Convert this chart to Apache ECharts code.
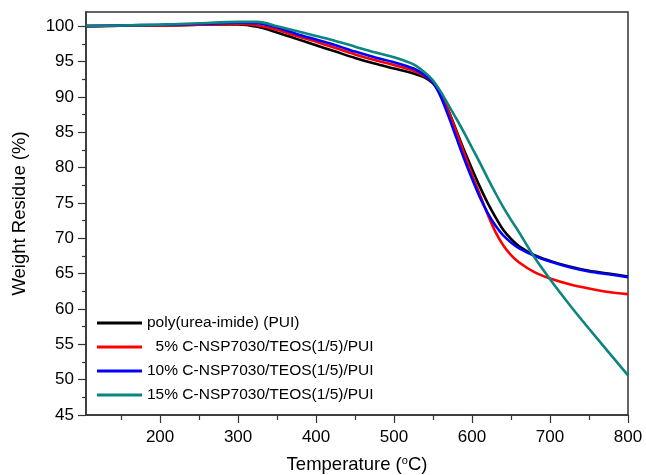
<!DOCTYPE html>
<html>
<head>
<meta charset="utf-8">
<script src="https://cdn.jsdelivr.net/npm/echarts@6/dist/echarts.min.js"></script>
<style>
html, body { margin: 0; padding: 0; background: #fff; }
#main { width: 646px; height: 475px; }
</style>
</head>
<body>
<div id="main"></div>
<script>
// temperatures (°C) and weight residue (%)
var temps = [105, 150, 200, 250, 300, 325, 350, 375, 400, 425, 450, 475, 500, 525, 540, 550, 560, 570, 580, 590, 600, 610, 620, 630, 640, 650, 660, 680, 700, 725, 750, 775, 800];
var pui   = [100, 100.05, 100.1, 100.2, 100.25, 99.9, 99.1, 98.2, 97.3, 96.4, 95.5, 94.7, 94.0, 93.3, 92.7, 91.9, 90.4, 88.0, 85.2, 82.4, 79.8, 77.3, 75.0, 73.0, 71.2, 69.9, 68.9, 67.6, 66.8, 66.0, 65.4, 65.0, 64.6];
var pct5  = [100, 100.05, 100.1, 100.2, 100.3, 100.1, 99.5, 98.6, 97.8, 96.9, 96.0, 95.2, 94.5, 93.7, 92.9, 92.0, 90.4, 87.9, 85.0, 82.0, 79.0, 76.2, 73.4, 70.9, 69.0, 67.6, 66.6, 65.2, 64.3, 63.5, 62.9, 62.4, 62.1];
var pct10 = [100, 100.1, 100.2, 100.3, 100.5, 100.4, 99.8, 98.9, 98.1, 97.3, 96.4, 95.6, 94.9, 94.0, 93.0, 92.0, 90.0, 87.2, 84.2, 81.2, 78.4, 75.8, 73.6, 71.8, 70.4, 69.4, 68.6, 67.5, 66.7, 65.9, 65.3, 64.9, 64.5];
var pct15 = [100, 100.1, 100.2, 100.4, 100.6, 100.6, 100.0, 99.3, 98.6, 97.9, 97.1, 96.3, 95.6, 94.6, 93.4, 92.3, 90.7, 88.8, 86.9, 84.9, 82.8, 80.7, 78.5, 76.4, 74.4, 72.6, 70.9, 67.3, 64.2, 60.6, 57.2, 53.9, 50.6];

var names = ['poly(urea-imide) (PUI)', '  5% C-NSP7030/TEOS(1/5)/PUI', '10% C-NSP7030/TEOS(1/5)/PUI', '15% C-NSP7030/TEOS(1/5)/PUI'];
var colors = ['#000000', '#ff0000', '#0000ff', '#0a8580'];

var xTicks = [200, 300, 400, 500, 600, 700, 800];
var xMinor = [150, 250, 350, 450, 550, 650, 750];
var yTicks = [45, 50, 55, 60, 65, 70, 75, 80, 85, 90, 95, 100];
var yMinor = [47.5, 52.5, 57.5, 62.5, 67.5, 72.5, 77.5, 82.5, 87.5, 92.5, 97.5];

function pairs(vals) {
  return temps.map(function (t, i) { return [t, vals[i]]; });
}

var myChart = echarts.init(document.getElementById('main'));
var font = 'Liberation Sans, Arial, sans-serif';

option = {
  backgroundColor: '#fff',
  animation: false,
  textStyle: { fontFamily: font },
  grid: {
    left: 86, right: 18, top: 12, bottom: 60,
    outerBoundsMode: 'none',
    show: true, borderColor: '#333', borderWidth: 1.5
  },
  legend: {
    orient: 'vertical',
    left: 92, top: 310,
    icon: 'rect',
    itemWidth: 45, itemHeight: 3, itemGap: 8,
    textStyle: { fontSize: 15.5, color: '#000', fontFamily: font },
    data: names
  },
  xAxis: [
    {
      type: 'value', min: 105, max: 800,
      name: 'Temperature ({s|o}C)',
      nameLocation: 'middle', nameGap: 40,
      nameTextStyle: { fontSize: 18.5, color: '#000', rich: { s: { fontSize: 11, verticalAlign: 'top', padding: [0, 0, 9, 0] } } },
      axisLine: { lineStyle: { color: '#333', width: 1.5 } },
      axisTick: { length: 8, lineStyle: { color: '#333', width: 1.2 }, customValues: xTicks },
      axisLabel: { fontSize: 17, color: '#000', margin: 14, customValues: xTicks },
      splitLine: { show: false }
    },
    {
      type: 'value', min: 105, max: 800, position: 'bottom',
      axisLine: { show: false },
      axisTick: { length: 5, lineStyle: { color: '#333', width: 1.2 }, customValues: xMinor },
      axisLabel: { show: false },
      splitLine: { show: false }
    }
  ],
  yAxis: [
    {
      type: 'value', min: 45, max: 102,
      name: 'Weight Residue (%)',
      nameLocation: 'middle', nameGap: 57, nameRotate: 90,
      nameTextStyle: { fontSize: 18.5, color: '#000' },
      axisLine: { show: true, lineStyle: { color: '#333', width: 1.5 } },
      axisTick: { show: true, length: 8, lineStyle: { color: '#333', width: 1.2 }, customValues: yTicks },
      axisLabel: { fontSize: 17, color: '#000', margin: 12, customValues: yTicks },
      splitLine: { show: false }
    },
    {
      type: 'value', min: 45, max: 102, position: 'left',
      axisLine: { show: false },
      axisTick: { show: true, length: 4, lineStyle: { color: '#333', width: 1.2 }, customValues: yMinor },
      axisLabel: { show: false },
      splitLine: { show: false }
    }
  ],
  series: [pui, pct5, pct10, pct15].map(function (vals, i) {
    return {
      name: names[i],
      type: 'line',
      smooth: 0.3,
      symbol: 'none',
      color: colors[i],
      lineStyle: { width: 2.6, color: colors[i] },
      data: pairs(vals)
    };
  })
};

myChart.setOption(option);
</script>
</body>
</html>
